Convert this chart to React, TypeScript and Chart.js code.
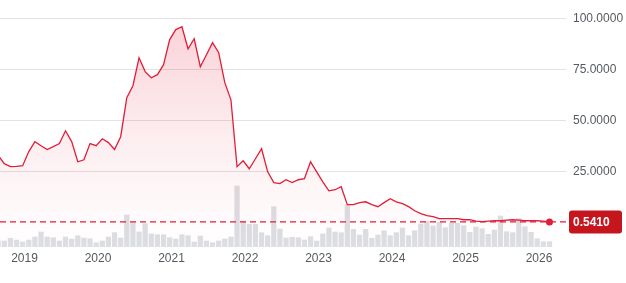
import React, { useEffect, useRef } from "react";
import { Chart, registerables } from "chart.js";

Chart.register(...registerables);

// Monthly closing prices (first point ≈ Aug 2018, last ≈ Feb 2026)
const prices: number[] = [
  33.2,
  29.1, 27.6, 27.8, 28.1, 35.0, 39.9, 37.9, 36.0, 37.4, 38.9,
  45.2, 39.9, 30.0, 31.0, 38.9, 37.9, 41.3, 39.4, 36.0, 42.3,
  61.4, 67.3, 81.0, 74.2, 71.2, 72.7, 77.6, 89.9, 94.8, 96.2,
  85.4, 90.3, 76.6, 82.5, 88.4, 83.5, 68.8, 60.4, 27.6, 30.5,
  26.6, 31.5, 36.4, 25.1, 19.8, 19.3, 21.2, 19.8, 21.2, 21.7,
  30.0, 25.1, 20.2, 15.8, 16.3, 17.8, 9.0, 9.0, 10.0, 10.4,
  9.0, 8.0, 10.0, 11.9, 10.4, 9.5, 8.0, 6.0, 4.6, 3.6,
  3.1, 2.1, 2.1, 2.1, 2.1, 1.6, 1.6, 0.9, 0.64, 0.9,
  1.1, 1.1, 1.4, 1.6, 1.4, 1.1, 1.1, 1.1, 0.9, 0.541,
];

// Monthly volume (relative units)
const volumes: number[] = [
  6,
  6, 8.7, 7, 5, 7, 10, 15, 10, 9.3, 6,
  10, 8, 11.3, 9, 8.3, 4.3, 6, 10, 14.3, 9,
  32, 24.3, 15, 23.3, 13, 12.3, 12.3, 9.3, 8, 12.3,
  11.3, 5, 11, 6, 4.3, 6, 8, 10, 61, 26,
  22.7, 22.7, 14.3, 11.3, 40.3, 18, 9, 9.7, 9.3, 7,
  10.3, 6, 13, 19, 15, 14.3, 42, 17.7, 12, 17.7,
  8.7, 12, 16.3, 11.3, 14.3, 19, 11.3, 16.3, 23, 25.7,
  21, 24.7, 19.3, 23.7, 23.7, 21.3, 14.7, 20, 18.3, 12.7,
  17, 31, 15.3, 14.3, 28.7, 20.3, 14.7, 8.3, 5.3, 5.3,
];

// Month offset of the first point relative to January 2019
const FIRST_MONTH = -4.3;
const yearLabels: string[] = ["2019", "2020", "2021", "2022", "2023", "2024", "2025", "2026"];
const priceTicks: number[] = [25, 50, 75, 100];
const lastPriceLabel = "0.5410";

const RED = "#e21d38";
const BOX_RED = "#c4161c";
const FONT = "'Liberation Sans', Arial, sans-serif";

export default function App() {
  const canvasRef = useRef<HTMLCanvasElement | null>(null);

  useEffect(() => {
    const canvas = canvasRef.current;
    if (!canvas) return;

    const lineData = prices.map((v, i) => ({ x: FIRST_MONTH + i, y: v }));
    const volData = volumes.map((v, i) => ({ x: FIRST_MONTH + i, y: v }));
    const lastIdx = prices.length - 1;

    const lastPricePlugin = {
      id: "lastPrice",
      afterDatasetsDraw(chart: any) {
        const { ctx, chartArea, scales } = chart;
        const y = scales.y.getPixelForValue(prices[lastIdx]);
        const x = scales.x.getPixelForValue(FIRST_MONTH + lastIdx);
        ctx.save();
        ctx.strokeStyle = RED;
        ctx.lineWidth = 1.3;
        ctx.setLineDash([6, 4]);
        ctx.beginPath();
        ctx.moveTo(chartArea.left, y);
        ctx.lineTo(chartArea.right + 2, y);
        ctx.stroke();
        ctx.setLineDash([]);
        ctx.fillStyle = RED;
        ctx.beginPath();
        ctx.arc(x, y, 3.5, 0, Math.PI * 2);
        ctx.fill();
        const bx = chartArea.right + 3;
        const bw = 53;
        const bh = 23;
        const by = y - bh / 2;
        ctx.fillStyle = BOX_RED;
        ctx.beginPath();
        (ctx as any).roundRect(bx, by, bw, bh, 3);
        ctx.fill();
        ctx.fillStyle = "#ffffff";
        ctx.font = `bold 12px ${FONT}`;
        ctx.textBaseline = "middle";
        ctx.textAlign = "left";
        ctx.fillText(lastPriceLabel, bx + 4, y + 0.5);
        ctx.restore();
      },
    };

    const chart = new Chart(canvas, {
      type: "line",
      data: {
        datasets: [
          {
            type: "line",
            data: lineData,
            borderColor: RED,
            borderWidth: 1.3,
            pointRadius: 0,
            tension: 0,
            fill: "start",
            yAxisID: "y",
            order: 0,
            backgroundColor: (c: any) => {
              const { chart } = c;
              const area = chart.chartArea;
              if (!area) return "rgba(226,29,56,0.15)";
              const g = chart.ctx.createLinearGradient(0, area.top, 0, area.bottom);
              g.addColorStop(0, "rgba(226,29,56,0.22)");
              g.addColorStop(0.55, "rgba(226,29,56,0.08)");
              g.addColorStop(1, "rgba(226,29,56,0)");
              return g;
            },
          } as any,
          {
            type: "bar",
            data: volData,
            backgroundColor: "#dcdee2",
            barThickness: 4.6,
            yAxisID: "y1",
            order: 1,
          } as any,
        ],
      },
      options: {
        animation: false,
        responsive: false,
        maintainAspectRatio: false,
        layout: { padding: 0 },
        plugins: {
          legend: { display: false },
          tooltip: { enabled: false },
        },
        scales: {
          x: {
            type: "linear",
            min: -4,
            max: 88.4,
            offset: false,
            grid: { display: false, drawTicks: false },
            border: { display: false },
            afterBuildTicks: (scale: any) => {
              scale.ticks = yearLabels.map((_, i) => ({ value: i * 12 }));
            },
            afterFit: (scale: any) => {
              scale.height = 36;
              scale.paddingLeft = 0;
              scale.paddingRight = 0;
            },
            ticks: {
              padding: 4,
              autoSkip: false,
              maxRotation: 0,
              color: "#555a5f",
              font: { family: FONT, size: 12 },
              callback: (v: any) => yearLabels[Math.round(Number(v) / 12)] ?? "",
            },
          },
          y: {
            position: "right",
            min: -11.76,
            max: 109.3,
            grid: { color: "#e2e2e2", drawTicks: false, lineWidth: 1 },
            border: { display: false },
            afterBuildTicks: (scale: any) => {
              scale.ticks = priceTicks.map((v) => ({ value: v }));
            },
            afterFit: (scale: any) => {
              scale.width = 60;
              scale.paddingTop = 0;
              scale.paddingBottom = 0;
            },
            ticks: {
              padding: 7,
              color: "#555a5f",
              font: { family: FONT, size: 12 },
              callback: (v: any) => Number(v).toFixed(4),
            },
          },
          y1: {
            display: false,
            min: 0,
            max: 247,
          },
        },
      },
      plugins: [lastPricePlugin],
    } as any);

    return () => chart.destroy();
  }, []);

  return (
    <div style={{ position: "fixed", left: 0, top: 0, width: 626, height: 283, background: "#fff" }}>
      <canvas ref={canvasRef} width={626} height={283} />
    </div>
  );
}
